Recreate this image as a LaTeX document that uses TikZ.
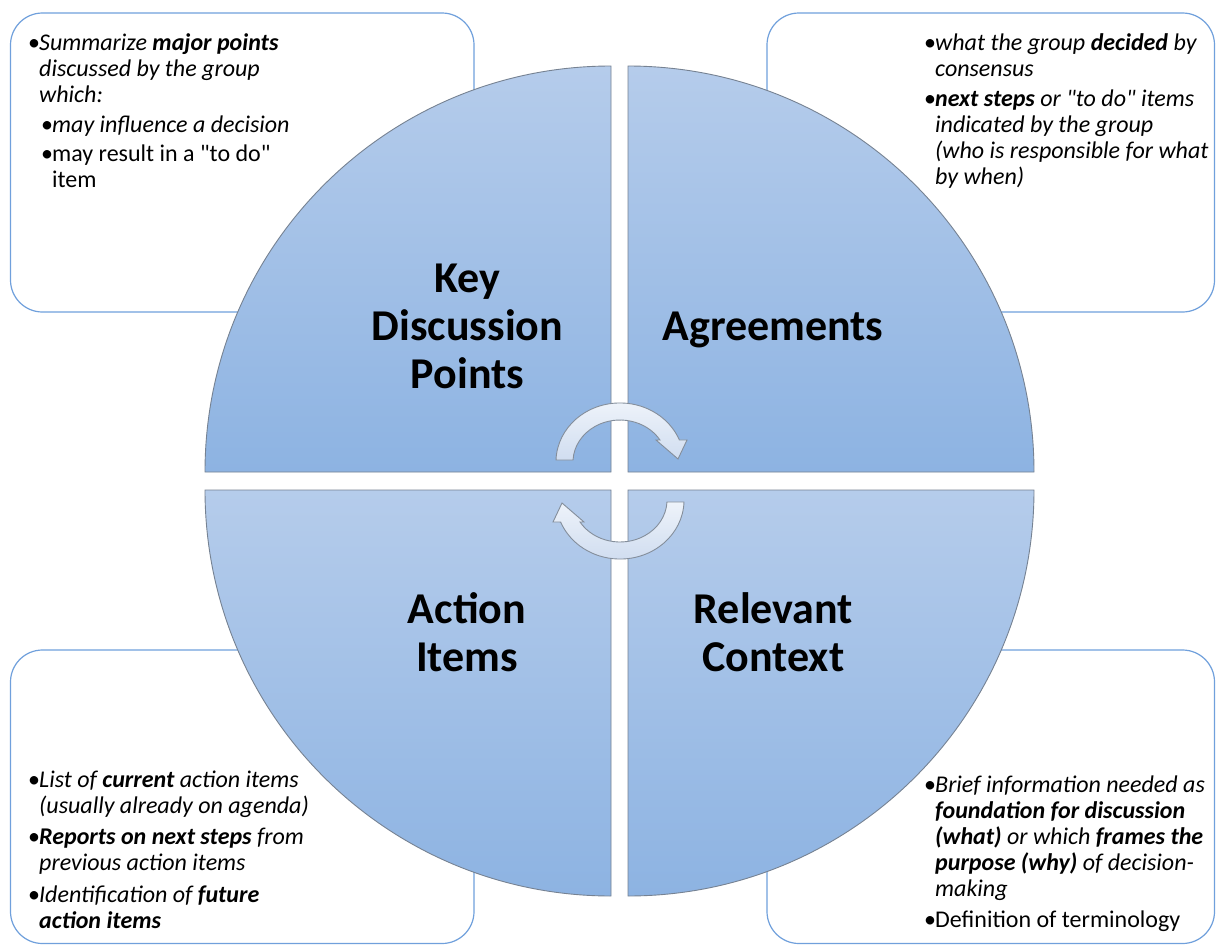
\documentclass[tikz,border=0pt]{standalone}
\usepackage{fontspec}
\setmainfont{Carlito}
\definecolor{boxblue}{RGB}{112,160,220}
\definecolor{rimgray}{RGB}{118,130,146}
\definecolor{quadtop}{RGB}{181,204,235}
\definecolor{quadbot}{RGB}{141,179,226}
\definecolor{arrowtop}{RGB}{238,243,250}
\definecolor{arrowbot}{RGB}{208,221,240}
\definecolor{arrowrim}{RGB}{132,142,155}
% a bullet followed by a block of lines whose first baseline is the node's base
\newcommand{\bullines}[1]{\makebox[11pt][l]{•}\begin{tabular}[t]{@{}l@{}}#1\end{tabular}}
\newcommand{\qq}{\textquotedbl}
\begin{document}
\begin{tikzpicture}[x=1pt,y=-1pt,
  card/.style={draw=boxblue, line width=1.2pt, rounded corners=32pt, fill=white},
  quad/.style={draw=rimgray, line width=0.9pt, top color=quadtop, bottom color=quadbot},
  turn/.style={draw=arrowrim, line width=0.9pt, top color=arrowtop, bottom color=arrowbot},
  title/.style={font=\fontsize{44}{48}\selectfont\bfseries, text width=260pt, align=center, anchor=base, inner sep=0pt},
  note/.style={font=\fontsize{24}{26}\selectfont, anchor=base west, inner sep=0pt}]
\useasboundingbox (0,0) rectangle (1216,945);
\fill[white] (0,0) rectangle (1216,945);

% rounded text cards in the four corners
\draw[card] (10.5,13) rectangle (474,312);
\draw[card] (767,13) rectangle (1214.5,312);
\draw[card] (10.5,650) rectangle (474,943.5);
\draw[card] (767,650) rectangle (1214.5,943.5);

% circle split into four quadrants
\draw[quad] (611,472) -- (205,472) arc[start angle=180, end angle=270, radius=406] -- cycle;
\draw[quad] (628,472) -- (628,66) arc[start angle=270, end angle=360, radius=406] -- cycle;
\draw[quad] (628,490) -- (1034,490) arc[start angle=0, end angle=90, radius=406] -- cycle;
\draw[quad] (611,490) -- (611,896) arc[start angle=90, end angle=180, radius=406] -- cycle;

% circular arrows in the centre
\draw[turn] (556,460) arc[start angle=181.9, end angle=338.1, x radius=64, y radius=59]
  -- (687,440) -- (678,459) -- (656,440) -- (660,440)
  arc[start angle=328.4, end angle=182.7, x radius=47, y radius=42] -- cycle;
\draw[turn] (684,502) arc[start angle=1.9, end angle=158.1, x radius=64, y radius=59]
  -- (553,522) -- (562,503) -- (584,522) -- (580,522)
  arc[start angle=148.4, end angle=2.7, x radius=47, y radius=42] -- cycle;

% quadrant titles
\node[title] (kdp) at (467.5,292) {Key\\Discussion\\Points};
\node[title] (agr) at (773,340) {Agreements};
\node[title] (act) at (467,623) {Action\\Items};
\node[title] (ctx) at (773.5,623) {Relevant\\Context};

% key discussion points card
\node[note] (kdp1) at (28,50) {\bullines{\textit{Summarize \textbf{major points}}\\
  \textit{discussed by the group}\\ \textit{which:}}};
\node[note] (kdp2) at (41,132) {\bullines{\textit{may influence a decision}}};
\node[note] (kdp3) at (41,161) {\bullines{may result in a \qq to do\qq\\ item}};

% agreements card
\node[note] (agr1) at (924,50) {\bullines{\textit{what the group \textbf{decided} by}\\
  \textit{consensus}}};
\node[note] (agr2) at (924,106) {\bullines{\textit{\textbf{next steps} or \qq to do\qq\ items}\\
  \textit{indicated by the group}\\ \textit{(who is responsible for what}\\
  \textit{by when)}}};

% action items card
\node[note] (act1) at (28,787) {\bullines{\textit{List of \textbf{current} action items}\\
  \textit{(usually already on agenda)}}};
\node[note] (act2) at (28,844) {\bullines{\textit{\textbf{Reports on next steps} from}\\
  \textit{previous action items}}};
\node[note] (act3) at (28,902) {\bullines{\textit{Identification of \textbf{future}}\\
  \textit{\textbf{action items}}}};

% relevant context card
\node[note] (ctx1) at (924,792) {\bullines{\textit{Brief information needed as}\\
  \textit{\textbf{foundation for discussion}}\\
  \textit{\textbf{(what)} or which \textbf{frames the}}\\
  \textit{\textbf{purpose (why)} of decision-}\\
  \textit{making}}};
\node[note] (ctx2) at (924,927) {\bullines{Definition of terminology}};
\end{tikzpicture}
\end{document}
